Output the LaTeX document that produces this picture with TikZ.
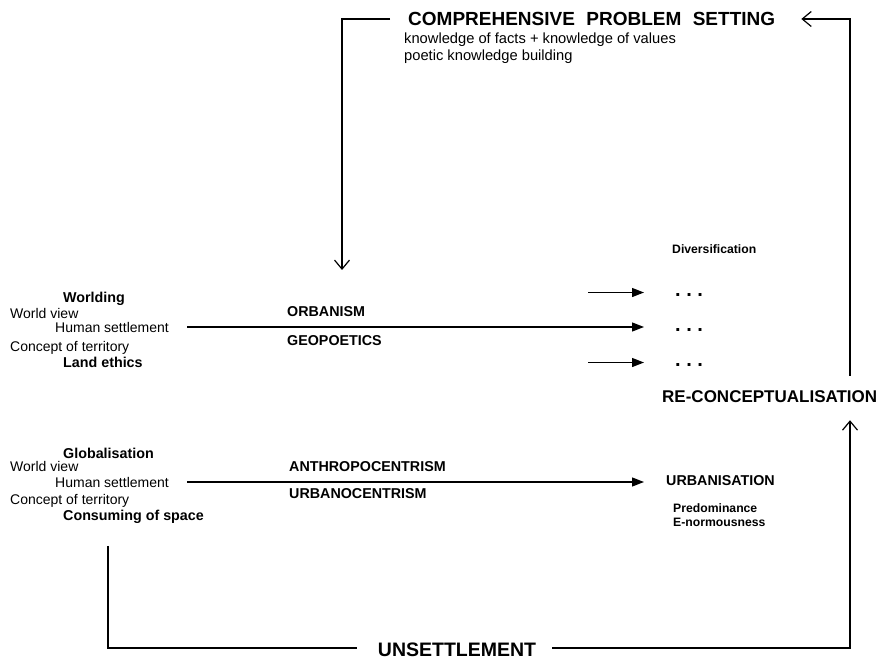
\documentclass[tikz,border=0pt]{standalone}
\usepackage{fontspec}
\usepackage{xcolor}
\usepackage{tikz}
\usetikzlibrary{arrows.meta}
\setmainfont{Liberation Sans}
\definecolor{inkblack}{RGB}{0, 0, 0}

\tikzset{
    plaintext/.style={font=\fontsize{14}{16}\selectfont, inner sep=0pt, anchor=west, text=inkblack},
    boldtext/.style={font=\fontsize{14.3}{16}\selectfont\bfseries, inner sep=0pt, anchor=west, text=inkblack},
    smallbold/.style={font=\fontsize{12.2}{14}\selectfont\bfseries, inner sep=0pt, anchor=west, text=inkblack},
    headtext/.style={font=\fontsize{19}{21}\selectfont\bfseries, inner sep=0pt, anchor=west, text=inkblack},
    dotstext/.style={font=\fontsize{20}{22}\selectfont\bfseries, inner sep=0pt, anchor=base west},
    fillarrow/.style={draw=inkblack, line width=1.3pt, -{Triangle[length=12pt,width=9pt]}},
    openarrow/.style={draw=inkblack, line width=1.2pt, -{Straight Barb[length=9pt,width=15pt]}},
    loopline/.style={draw=inkblack, line width=1.2pt}
}

\begin{document}
\begin{tikzpicture}[x=1pt, y=-1pt]
    \useasboundingbox (0,0) rectangle (879,660);

    % top
    \node[headtext] (cps) at (408,19) {COMPREHENSIVE\hspace{0.6em}PROBLEM\hspace{0.6em}SETTING};
    \node[plaintext, font=\fontsize{14.7}{17}\selectfont, anchor=north west, align=left] (facts) at (404,33)
        {knowledge of facts + knowledge of values\\poetic knowledge building};

    % worlding
    \node[boldtext] (worlding) at (63,299) {Worlding};
    \node[plaintext] (wview1) at (10,313) {World view};
    \node[plaintext] (hset1) at (55,327) {Human settlement};
    \node[plaintext] (terr1) at (10,348) {Concept of territory};
    \node[boldtext] (ethics) at (63,362) {Land ethics};
    \node[boldtext] (orban) at (287,312) {ORBANISM};
    \node[boldtext] (geopo) at (287,341) {GEOPOETICS};

    \node[smallbold] (divers) at (672,249) {Diversification};
    \node[dotstext] (dots1) at (675,297) {.\ .\ .};
    \node[dotstext] (dots2) at (675,332) {.\ .\ .};
    \node[dotstext] (dots3) at (675,367) {.\ .\ .};
    \node[headtext, font=\fontsize{17}{19}\selectfont\bfseries] (reconc) at (662,397) {RE-CONCEPTUALISATION};

    % globalisation
    \node[boldtext] (global) at (63,453) {Globalisation};
    \node[plaintext] (wview2) at (10,466) {World view};
    \node[plaintext] (hset2) at (55,482) {Human settlement};
    \node[plaintext] (terr2) at (10,501) {Concept of territory};
    \node[boldtext] (consum) at (63,517) {Consuming of space};
    \node[boldtext] (anthro) at (289,467) {ANTHROPOCENTRISM};
    \node[boldtext] (urbcen) at (289,494) {URBANOCENTRISM};

    \node[boldtext] (urban) at (666,481) {URBANISATION};
    \node[smallbold] (predom) at (673,508) {Predominance};
    \node[smallbold] (enorm) at (673,522) {E-normousness};

    \node[headtext, font=\fontsize{19.5}{21}\selectfont\bfseries, anchor=center] (unset) at (457,650) {UNSETTLEMENT};

    \coordinate (loopin) at (342,270);
    \coordinate (rline) at (850,648);

    % arrows
    \draw[fillarrow] ([xshift=-87pt]dots1.west |- dots1.center) ++(0,-3) -- ++(56,0);
    \draw[fillarrow] ([xshift=18pt]hset1.east) -- ([xshift=-31pt]hset1.east -| dots2.west);
    \draw[fillarrow] ([xshift=-87pt]dots3.west |- dots3.center) ++(0,-3) -- ++(56,0);
    \draw[fillarrow] ([xshift=18pt]hset2.east) -- ([xshift=-22pt]hset2.east -| urban.west);

    % loops
    \draw[openarrow] ([xshift=-18pt]cps.west) -| (loopin);
    \draw[openarrow] ([yshift=15pt]reconc.north -| rline) |- ([xshift=26pt]cps.east);
    \draw[loopline] ([xshift=45pt,yshift=-22pt]consum.south west) |- ([xshift=-21pt,yshift=2pt]unset.west);
    \draw[openarrow] ([xshift=16pt,yshift=2pt]unset.east) -| ([yshift=-17pt]reconc.south -| rline);
\end{tikzpicture}
\end{document}
